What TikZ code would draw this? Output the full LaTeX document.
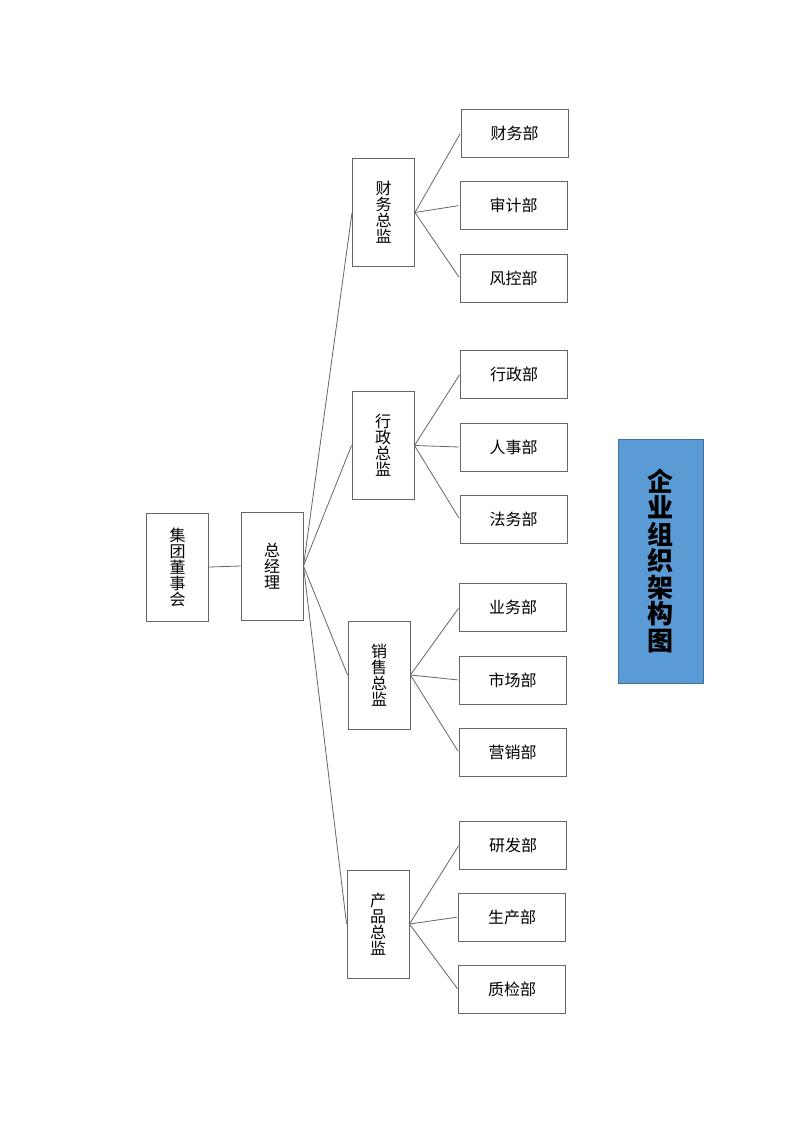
\documentclass[tikz,border=0pt]{standalone}
\usepackage{fontspec}
\newfontfamily\cjk{Noto Sans CJK SC}
\definecolor{titlefill}{HTML}{5B9BD5}
\definecolor{titledraw}{HTML}{41719C}
\definecolor{edge}{HTML}{666666}
\begin{document}
\begin{tikzpicture}[x=1pt,y=-1pt,
  box/.style={draw=edge, line width=0.9pt, inner sep=0pt, align=center,
    font=\cjk\fontsize{16}{16}\selectfont, text=black},
  vbox/.style={box, minimum width=62pt, minimum height=108pt},
  dbox/.style={box, minimum width=107pt, minimum height=48pt},
  link/.style={draw=edge, line width=0.8pt}]
\useasboundingbox (0,0) rectangle (800,1130);
\fill[white] (0,0) rectangle (800,1130);

\node[vbox] (board) at (177.5,567) {集\\团\\董\\事\\会};
\node[vbox] (gm) at (272,566) {总\\经\\理};

\node[vbox] (d1) at (383.5,212.5) {财\\务\\总\\监};
\node[vbox] (d2) at (383,445.5) {行\\政\\总\\监};
\node[vbox] (d3) at (379,675) {销\\售\\总\\监};
\node[vbox] (d4) at (378,924) {产\\品\\总\\监};

\node[dbox] (a1) at (514.5,133) {财务部};
\node[dbox] (a2) at (513.5,205.5) {审计部};
\node[dbox] (a3) at (513.5,278) {风控部};
\node[dbox] (b1) at (514,374) {行政部};
\node[dbox] (b2) at (513.5,447) {人事部};
\node[dbox] (b3) at (513.5,519) {法务部};
\node[dbox] (c1) at (513,607.5) {业务部};
\node[dbox] (c2) at (512.5,680) {市场部};
\node[dbox] (c3) at (512.5,752) {营销部};
\node[dbox] (e1) at (513,845) {研发部};
\node[dbox] (e2) at (512,917) {生产部};
\node[dbox] (e3) at (512,989.5) {质检部};

\node[draw=titledraw, fill=titlefill, line width=0.8pt, minimum width=85pt,
  minimum height=244pt, inner sep=0pt, align=center,
  font=\cjk\bfseries\fontsize{26}{26.5}\selectfont] (title) at (660.5,561)
  {企\\业\\组\\织\\架\\构\\图};

\draw[link] (board.east) -- (gm.west);
\foreach \d in {d1,d2,d3,d4} \draw[link] (gm.east) -- (\d.west);
\foreach \t in {a1,a2,a3} \draw[link, shorten >=1pt] (d1.east) -- (\t.west);
\foreach \t in {b1,b2,b3} \draw[link, shorten >=1pt] (d2.east) -- (\t.west);
\foreach \t in {c1,c2,c3} \draw[link, shorten >=1pt] (d3.east) -- (\t.west);
\foreach \t in {e1,e2,e3} \draw[link, shorten >=1pt] (d4.east) -- (\t.west);
\end{tikzpicture}
\end{document}
